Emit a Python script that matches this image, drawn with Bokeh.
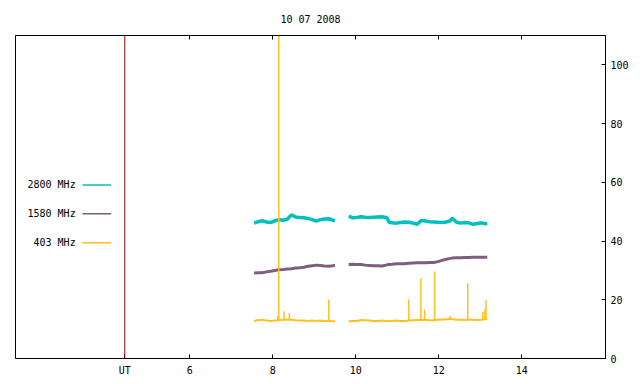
import numpy as np
from bokeh.plotting import figure
from bokeh.models import LinearAxis, FixedTicker, Range1d, Span, ColumnDataSource
from bokeh.core.properties import value
from bokeh.embed import file_html
from bokeh.resources import INLINE

NAN = float("nan")

TITLE = "10 07 2008"
SERIES = ["2800 MHz", "1580 MHz", "403 MHz"]
COLORS = ["#00c0c0", "#7e5e80", "#ffc020"]
MARK_COLOR = "#a00000"

UT_MARK = 4.434
X_TICKS = [6, 8, 10, 12, 14]
Y_TICKS = [0, 20, 40, 60, 80, 100]

# time (UT hours); NaN separates the two recording segments
t = [7.55, 7.65, 7.75, 7.85, 7.95, 8.05, 8.15, 8.25, 8.35, 8.45, 8.55, 8.65, 8.75,
     8.85, 8.95, 9.05, 9.15, 9.25, 9.35, 9.45, 9.50, NAN,
     9.83, 9.93, 10.03, 10.13, 10.23, 10.33, 10.43, 10.53, 10.63, 10.73, 10.76, 10.80,
     10.88, 10.98, 11.08, 11.18, 11.28, 11.38, 11.48, 11.58, 11.68, 11.78, 11.88, 11.98,
     12.08, 12.18, 12.28, 12.33, 12.43, 12.53, 12.63, 12.73, 12.83, 12.93, 13.03, 13.13, 13.17]

f2800 = [46.1, 46.6, 46.9, 46.5, 46.3, 46.9, 47.3, 47.1, 47.4, 48.9, 48.2, 48.0, 47.9,
         47.7, 47.3, 46.8, 47.3, 47.5, 47.6, 47.1, 47.0, NAN,
         48.5, 47.9, 48.0, 48.3, 48.1, 48.0, 48.1, 48.2, 48.3, 48.0, 47.9, 46.4,
         46.2, 46.1, 46.3, 46.5, 46.4, 46.1, 45.7, 47.0, 46.8, 46.6, 46.5, 46.4,
         46.3, 46.5, 46.9, 47.8, 46.4, 46.1, 46.3, 46.2, 45.7, 46.0, 46.2, 45.9, 46.0]

f1580 = [29.1, 29.2, 29.2, 29.5, 29.7, 30.0, 30.2, 30.3, 30.5, 30.6, 30.8, 30.9, 31.1,
         31.4, 31.6, 31.8, 31.7, 31.5, 31.4, 31.6, 31.8, NAN,
         32.0, 32.1, 32.0, 32.0, 31.8, 31.7, 31.6, 31.6, 31.5, 31.8, 31.9, 32.0,
         32.1, 32.3, 32.3, 32.3, 32.4, 32.5, 32.6, 32.6, 32.6, 32.7, 32.7, 33.0,
         33.4, 33.8, 34.1, 34.2, 34.3, 34.3, 34.4, 34.4, 34.5, 34.5, 34.5, 34.5, 34.5]

f403 = [12.8, 13.1, 13.2, 12.9, 12.8, 12.9, 13.0, 13.2, 13.2, 13.2, 13.0, 12.9, 12.9,
        12.8, 12.9, 12.8, 12.9, 12.8, 12.8, 12.7, 12.7, NAN,
        12.7, 12.8, 12.8, 13.1, 13.0, 12.9, 12.8, 12.8, 12.9, 12.8, 12.8, 12.8,
        12.8, 12.9, 12.8, 12.8, 12.9, 13.0, 13.1, 13.1, 13.2, 13.0, 13.0, 13.2,
        13.3, 13.3, 13.5, 13.4, 13.2, 13.2, 13.1, 13.3, 13.2, 13.1, 13.2, 13.4, 13.6]

# 403 MHz bursts: time, base level, peak level
spike_t = [8.12, 8.145, 8.27, 8.40, 9.35, 11.28, 11.57, 11.66, 11.90, 12.27, 12.70, 13.06, 13.11, 13.14]
spike_base = [13.0, 13.0, 13.2, 13.2, 12.8, 12.9, 13.1, 13.2, 13.0, 13.5, 13.3, 13.2, 13.3, 13.4]
spike_peak = [14.5, 115.0, 16.1, 15.4, 20.1, 20.1, 27.4, 16.7, 29.7, 14.5, 25.6, 15.8, 16.7, 19.8]

# legend layout (data coordinates, left of plot area)
LEG_TEXT_X = 3.25
LEG_LINE_X = (3.415, 4.105)
LEG_Y = [59.1, 49.3, 39.4]

FONT = "DejaVu Sans Mono"

p = figure(x_range=Range1d(1.80, 16.02), y_range=Range1d(0, 110),
           frame_width=590, frame_height=323,
           toolbar_location=None, output_backend="svg",
           x_axis_location="below", y_axis_location="right",
           min_border_left=15, min_border_top=35, min_border_right=27, min_border_bottom=18,
           title=TITLE)

p.title.text_font = FONT
p.title.text_font_size = "10px"
p.title.text_font_style = "normal"
p.title.align = "center"
p.title.text_color = "black"
p.title.standoff = 22

p.grid.visible = False
p.outline_line_color = "black"
p.outline_line_width = 1
p.background_fill_color = "white"
p.border_fill_color = "white"

xa = p.xaxis[0]
xa.ticker = FixedTicker(ticks=[UT_MARK] + X_TICKS)
xa.major_label_overrides = {UT_MARK: "UT"}
ya = p.yaxis[0]
ya.ticker = FixedTicker(ticks=Y_TICKS)
for ax in (xa, ya):
    ax.major_tick_in = 4
    ax.major_tick_out = 0
    ax.minor_tick_line_color = None
    ax.major_label_text_font = FONT
    ax.major_label_text_font_size = "10px"
    ax.major_label_text_color = "black"
    ax.axis_line_color = "black"
    ax.major_tick_line_color = "black"
xa.major_label_standoff = 6
ya.major_label_standoff = 5

# mirrored tick marks on the top border (no labels)
top = LinearAxis(ticker=FixedTicker(ticks=X_TICKS), major_tick_in=4, major_tick_out=0,
                 minor_tick_line_color=None, major_label_text_font_size="10px",
                 major_label_overrides={v: "" for v in X_TICKS},
                 major_label_standoff=0, axis_line_color="black")
p.add_layout(top, "above")

p.add_layout(Span(location=UT_MARK, dimension="height", line_color=MARK_COLOR, line_width=1))

src = ColumnDataSource(dict(t=np.array(t), a=np.array(f2800), b=np.array(f1580), c=np.array(f403)))
p.line("t", "a", source=src, line_color=COLORS[0], line_width=3.5)
p.line("t", "b", source=src, line_color=COLORS[1], line_width=3)
p.line("t", "c", source=src, line_color=COLORS[2], line_width=2)
p.segment(x0=spike_t, x1=spike_t, y0=spike_base, y1=spike_peak, line_color=COLORS[2], line_width=1.5)

# legend (gnuplot style: label, then sample line)
p.text(x=[LEG_TEXT_X] * 3, y=LEG_Y, text=SERIES, text_align="right", text_baseline="middle",
       text_font=value(FONT), text_font_size="10px", text_color="black")
p.segment(x0=[LEG_LINE_X[0]] * 3, x1=[LEG_LINE_X[1]] * 3, y0=LEG_Y, y1=LEG_Y,
          line_color=COLORS, line_width=1.5)

open("out.html", "w").write(file_html(p, INLINE))
